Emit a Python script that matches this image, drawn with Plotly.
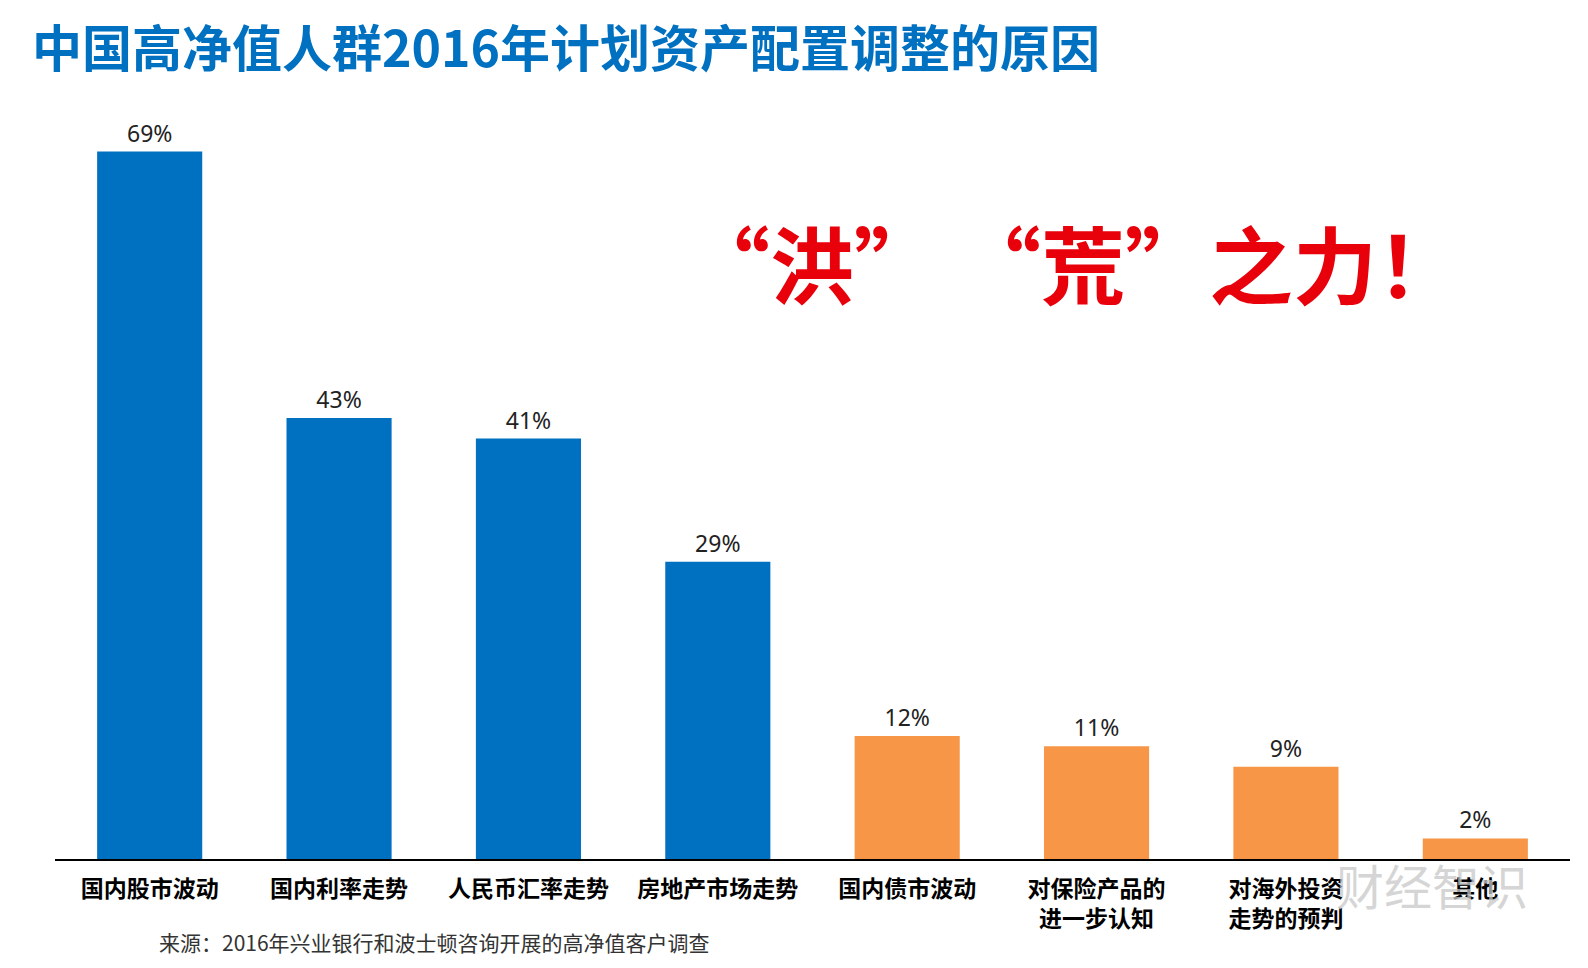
import plotly.graph_objects as go

categories = ["国内股市波动", "国内利率走势", "人民币汇率走势", "房地产市场走势",
              "国内债市波动", "对保险产品的<br>进一步认知", "对海外投资<br>走势的预判", "其他"]
values = [69, 43, 41, 29, 12, 11, 9, 2]
bar_colors = ["#0070C0"] * 4 + ["#F79646"] * 4

W, H = 1588, 968
OFF = 8  # page body margin
L, T = 55 - OFF, 90 - OFF
pw, ph = 1515, 769
R, B = W - L - pw, H - T - ph

def px(x):
    return (x - OFF - L) / pw

def py(y):
    return (T + ph + OFF - y) / ph

fig = go.Figure(go.Bar(
    x=categories, y=values, marker=dict(color=bar_colors, line=dict(width=0)),
    texttemplate="%{y}%", textposition="outside",
    textfont=dict(size=23, color="#222222", family="Noto Sans, Noto Sans CJK SC"),
    cliponaxis=False, width=0.555,
))

fig.update_layout(
    width=W, height=H, margin=dict(l=L, r=R, t=T, b=B),
    paper_bgcolor="white", plot_bgcolor="white", showlegend=False,
    font=dict(family="Noto Sans CJK SC"),
    xaxis=dict(showline=True, linecolor="black", linewidth=2, tickangle=0,
               showgrid=False, ticks="", ticklabelstandoff=8,
               tickfont=dict(size=23, color="black", family="Noto Sans CJK SC", weight="bold")),
    yaxis=dict(range=[0, 75], visible=False, showgrid=False, zeroline=False),
    annotations=[
        dict(text="<b>中国高净值人群2016年计划资产配置调整的原因</b>", xref="paper", yref="paper",
             x=px(30), y=py(45), xanchor="left", yanchor="middle", showarrow=False,
             font=dict(size=50, color="#0070C0", family="Noto Sans CJK SC")),
        dict(text="<b>“洪” “荒”之力！</b>", xref="paper", yref="paper",
             x=px(1073), y=py(262), xanchor="center", yanchor="middle", showarrow=False,
             font=dict(size=84, color="#E8000B", family="Noto Sans CJK SC")),
        dict(text="来源：2016年兴业银行和波士顿咨询开展的高净值客户调查", xref="paper", yref="paper",
             x=px(157), y=py(942), xanchor="left", yanchor="middle", showarrow=False,
             font=dict(size=21, color="#333333", family="Noto Sans CJK SC")),
        dict(text="财经智识", xref="paper", yref="paper",
             x=px(1432), y=py(884), xanchor="center", yanchor="middle", showarrow=False,
             font=dict(size=48, color="rgba(200,200,200,0.75)", family="Noto Sans CJK SC")),
    ],
)

fig.write_html("out.html")
